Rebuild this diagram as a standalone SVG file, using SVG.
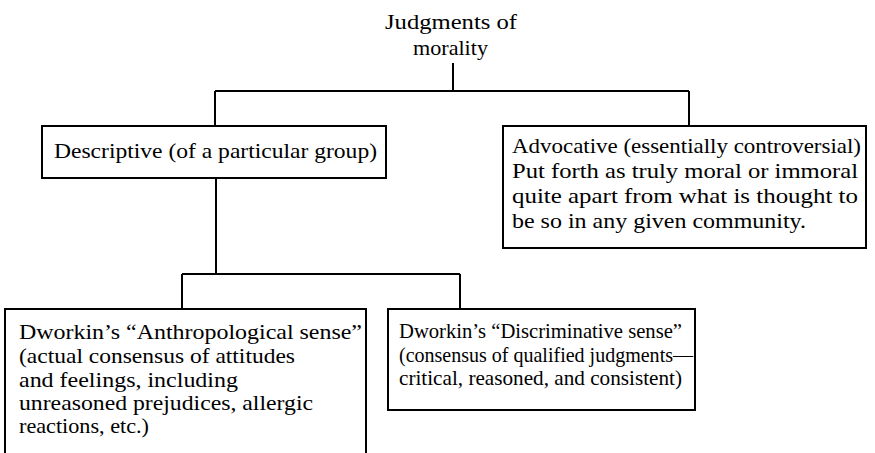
<svg xmlns="http://www.w3.org/2000/svg" width="875" height="453" viewBox="0 0 875 453">
<style>
  .box { fill: #ffffff; stroke: #000000; stroke-width: 2; }
  .conn { fill: none; stroke: #000000; stroke-width: 2; }
  text { font-family: "Liberation Serif", "Times New Roman", serif; font-size: 21.5px; fill: #000000; }
</style>
<rect width="875" height="453" fill="#ffffff"/>
<g id="connectors">
  <path class="conn" d="M453,63 V91 M215,91 H689 M215,91 V126 M689,91 V126"/>
  <path class="conn" d="M216,178 V274 M182,274 H460 M182,274 V309 M460,274 V309"/>
</g>
<g id="root">
  <text x="385" y="29" textLength="132" lengthAdjust="spacingAndGlyphs">Judgments of</text>
  <text x="413" y="55" textLength="75" lengthAdjust="spacingAndGlyphs">morality</text>
</g>
<g id="descriptive">
  <rect class="box" x="42" y="126" width="344" height="52"/>
  <text x="54" y="158" textLength="323" lengthAdjust="spacingAndGlyphs">Descriptive (of a particular group)</text>
</g>
<g id="advocative">
  <rect class="box" x="503" y="126" width="363" height="122"/>
  <text x="512" y="153" textLength="349" lengthAdjust="spacingAndGlyphs">Advocative (essentially controversial)</text>
  <text x="512" y="178" textLength="346" lengthAdjust="spacingAndGlyphs">Put forth as truly moral or immoral</text>
  <text x="512" y="203" textLength="346" lengthAdjust="spacingAndGlyphs">quite apart from what is thought to</text>
  <text x="512" y="228" textLength="294" lengthAdjust="spacingAndGlyphs">be so in any given community.</text>
</g>
<g id="anthropological">
  <rect class="box" x="5" y="309" width="361" height="160"/>
  <text x="19" y="339" textLength="343" lengthAdjust="spacingAndGlyphs">Dworkin’s “Anthropological sense”</text>
  <text x="19" y="363" textLength="276" lengthAdjust="spacingAndGlyphs">(actual consensus of attitudes</text>
  <text x="19" y="387" textLength="219" lengthAdjust="spacingAndGlyphs">and feelings, including</text>
  <text x="19" y="410" textLength="294" lengthAdjust="spacingAndGlyphs">unreasoned prejudices, allergic</text>
  <text x="19" y="433" textLength="130" lengthAdjust="spacingAndGlyphs">reactions, etc.)</text>
</g>
<g id="discriminative">
  <rect class="box" x="388" y="309" width="307" height="101"/>
  <text x="399" y="338" textLength="283" lengthAdjust="spacingAndGlyphs">Dworkin’s “Discriminative sense”</text>
  <text x="399" y="362" textLength="294" lengthAdjust="spacingAndGlyphs">(consensus of qualified judgments—</text>
  <text x="399" y="385" textLength="283" lengthAdjust="spacingAndGlyphs">critical, reasoned, and consistent)</text>
</g>
</svg>
